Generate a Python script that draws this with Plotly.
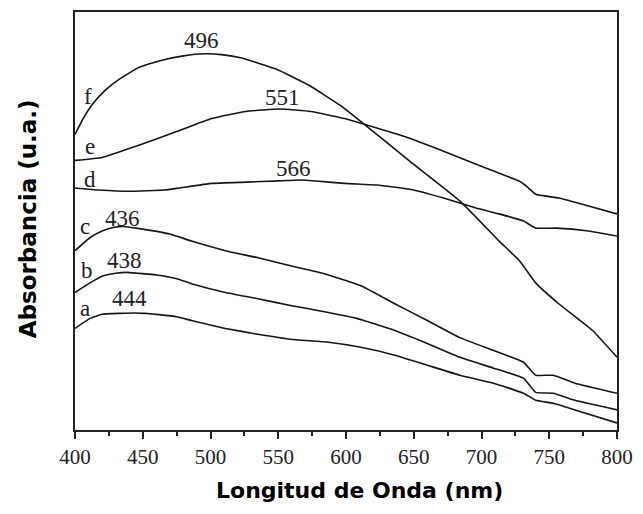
import plotly.graph_objects as go

# Wavelength (nm) and absorbance (arbitrary units) for each sample
wl_a = [400, 411, 420, 433, 444, 452, 462, 475, 486, 511, 535, 559, 587, 611, 636, 660, 684, 709, 731, 740, 753, 769, 800]
abs_a = [0.243, 0.267, 0.277, 0.279, 0.280, 0.279, 0.276, 0.271, 0.262, 0.243, 0.229, 0.217, 0.210, 0.198, 0.179, 0.155, 0.131, 0.112, 0.088, 0.071, 0.064, 0.048, 0.017]

wl_b = [400, 411, 420, 430, 438, 446, 460, 475, 486, 511, 535, 559, 584, 608, 636, 660, 684, 709, 731, 740, 753, 769, 800]
abs_b = [0.329, 0.352, 0.368, 0.375, 0.377, 0.375, 0.371, 0.362, 0.350, 0.329, 0.314, 0.298, 0.283, 0.267, 0.238, 0.207, 0.174, 0.148, 0.124, 0.090, 0.088, 0.071, 0.048]

wl_c = [400, 411, 420, 429, 436, 445, 470, 486, 511, 535, 559, 584, 611, 636, 660, 684, 709, 731, 740, 753, 769, 800]
abs_c = [0.429, 0.460, 0.476, 0.485, 0.487, 0.483, 0.469, 0.452, 0.429, 0.412, 0.393, 0.374, 0.345, 0.302, 0.262, 0.221, 0.190, 0.162, 0.131, 0.131, 0.112, 0.088]

wl_d = [400, 418, 440, 466, 477, 501, 526, 550, 566, 580, 599, 623, 647, 672, 696, 713, 731, 740, 755, 779, 800]
abs_d = [0.579, 0.574, 0.571, 0.574, 0.579, 0.590, 0.593, 0.596, 0.598, 0.595, 0.590, 0.586, 0.576, 0.555, 0.531, 0.517, 0.500, 0.483, 0.483, 0.476, 0.464]

wl_e = [400, 420, 445, 475, 501, 526, 551, 574, 599, 614, 647, 672, 696, 728, 734, 740, 757, 779, 800]
abs_e = [0.645, 0.652, 0.679, 0.714, 0.745, 0.762, 0.768, 0.762, 0.745, 0.731, 0.698, 0.667, 0.636, 0.595, 0.581, 0.564, 0.555, 0.536, 0.517]

wl_f = [400, 406, 413, 422, 433, 447, 462, 480, 496, 508, 523, 548, 573, 596, 611, 647, 684, 713, 728, 740, 757, 782, 800]
abs_f = [0.707, 0.745, 0.780, 0.812, 0.840, 0.867, 0.883, 0.895, 0.900, 0.898, 0.890, 0.864, 0.824, 0.776, 0.738, 0.643, 0.548, 0.452, 0.405, 0.352, 0.302, 0.238, 0.174]

series = [
    ("a", wl_a, abs_a),
    ("b", wl_b, abs_b),
    ("c", wl_c, abs_c),
    ("d", wl_d, abs_d),
    ("e", wl_e, abs_e),
    ("f", wl_f, abs_f),
]

# Curve letters and peak wavelengths with their label positions (nm, abs)
letters = ["f", "e", "d", "c", "b", "a"]
letter_x = [409.5, 411, 411, 407.5, 409, 407.5]
letter_y = [0.798, 0.679, 0.600, 0.486, 0.381, 0.290]

peak_text = ["496", "551", "566", "436", "438", "444"]
peak_x = [493, 553.5, 561, 435, 436.5, 440]
peak_y = [0.933, 0.795, 0.626, 0.507, 0.405, 0.314]

fig = go.Figure()
for name, x, y in series:
    fig.add_trace(go.Scatter(
        x=x, y=y, mode="lines", name=name,
        line=dict(color="#151515", width=1.6, shape="spline", smoothing=0.35),
        showlegend=False,
    ))

serif = "Liberation Serif, Times New Roman, serif"
sans_bold = "DejaVu Sans, sans-serif"

annotations = []
for t, x, y in zip(letters, letter_x, letter_y):
    annotations.append(dict(x=x, y=y, text=t, showarrow=False,
                            font=dict(family=serif, size=23, color="#222222"),
                            xanchor="center", yanchor="middle"))
for t, x, y in zip(peak_text, peak_x, peak_y):
    annotations.append(dict(x=x, y=y, text=t, showarrow=False,
                            font=dict(family=serif, size=23, color="#222222"),
                            xanchor="center", yanchor="middle"))

# Axis titles
annotations.append(dict(xref="paper", yref="paper", x=0.524, y=-0.145,
                        text="<b>Longitud de Onda (nm)</b>", showarrow=False,
                        font=dict(family=sans_bold, size=22, color="#000000"),
                        xanchor="center", yanchor="middle"))
annotations.append(dict(xref="paper", yref="paper", x=-0.086, y=0.505,
                        text="<b>Absorbancia (u.a.)</b>", showarrow=False, textangle=-90,
                        font=dict(family=sans_bold, size=23, color="#000000"),
                        xanchor="center", yanchor="middle"))

fig.update_layout(
    width=643, height=514,
    margin=dict(l=75, r=21, t=10, b=84),
    paper_bgcolor="white", plot_bgcolor="white",
    annotations=annotations,
    xaxis=dict(
        range=[400, 800], showgrid=False, zeroline=False,
        showline=True, linecolor="#222222", linewidth=2, mirror=True,
        tickmode="array", tickvals=list(range(400, 801, 50)),
        ticks="outside", ticklen=7, tickwidth=1.5, tickcolor="#222222",
        minor=dict(tickvals=list(range(425, 800, 50)), ticks="outside", ticklen=4, tickwidth=1.5, tickcolor="#222222"),
        tickfont=dict(family=serif, size=21, color="#222222"),
    ),
    yaxis=dict(
        range=[0, 1], showgrid=False, zeroline=False,
        showline=True, linecolor="#222222", linewidth=2, mirror=True,
        showticklabels=False, ticks="",
    ),
)

fig.write_html("out.html")
